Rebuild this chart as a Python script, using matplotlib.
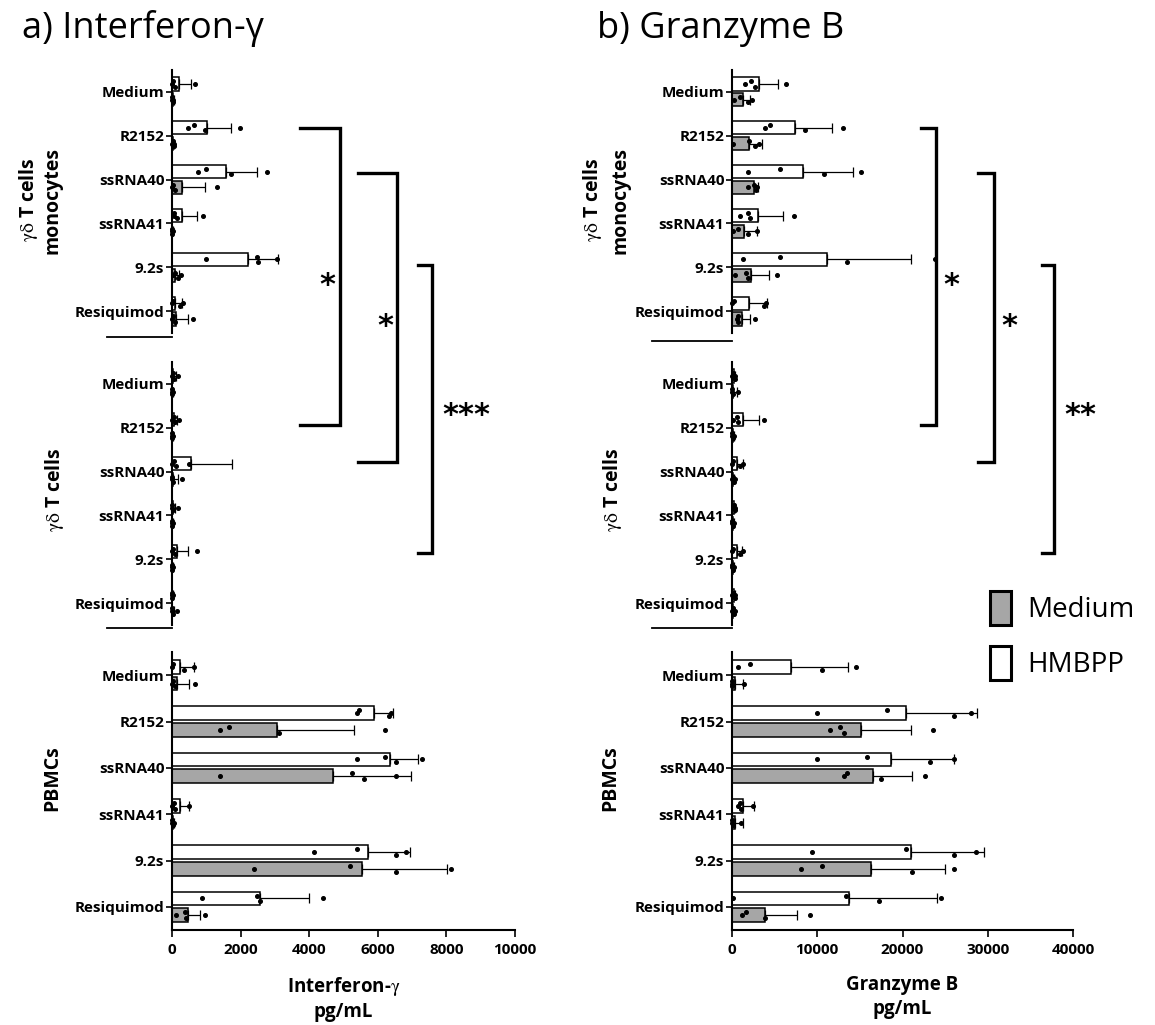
import numpy as np
import matplotlib.pyplot as plt
from matplotlib.lines import Line2D
from matplotlib.patches import Patch

plt.rcParams['font.family'] = ['Open Sans', 'DejaVu Sans']
plt.rcParams['mathtext.fontset'] = 'stix'

categories = ['Medium', 'R2152', 'ssRNA40', 'ssRNA41', '9.2s', 'Resiquimod']

# ---- Interferon-gamma (pg/mL) ----
# gd T cells + monocytes
ifn_mono_hmbpp = [200, 1020, 1570, 290, 2220, 100]
ifn_mono_hmbpp_sd = [350, 700, 910, 440, 870, 190]
ifn_mono_hmbpp_pts = [[0, 30, 100, 670], [470, 640, 960, 1980], [760, 990, 1720, 2770],
                      [50, 60, 150, 900], [990, 2480, 2500, 3060], [0, 20, 230, 320]]
ifn_mono_med = [20, 30, 290, 10, 90, 120]
ifn_mono_med_sd = [30, 40, 670, 20, 110, 350]
ifn_mono_med_pts = [[0, 10, 30, 40], [0, 20, 50, 60], [0, 20, 100, 1310],
                    [0, 0, 10, 20], [30, 80, 180, 250], [0, 20, 100, 610]]
# gd T cells only
ifn_gd_hmbpp = [30, 70, 540, 20, 150, 5]
ifn_gd_hmbpp_sd = [80, 80, 1210, 60, 320, 10]
ifn_gd_hmbpp_pts = [[0, 20, 60, 180], [0, 60, 100, 200], [0, 50, 120, 500],
                    [0, 10, 30, 180], [0, 40, 100, 730], [0, 0, 10, 20]]
ifn_gd_med = [5, 5, 20, 5, 5, 10]
ifn_gd_med_sd = [10, 10, 160, 10, 10, 40]
ifn_gd_med_pts = [[0, 0, 10, 20], [0, 0, 10, 20], [0, 10, 30, 280],
                  [0, 0, 10, 20], [0, 0, 10, 20], [0, 10, 30, 150]]
# PBMCs
ifn_pbmc_hmbpp = [230, 5880, 6370, 220, 5700, 2570]
ifn_pbmc_hmbpp_sd = [410, 560, 810, 280, 1230, 1430]
ifn_pbmc_hmbpp_pts = [[0, 40, 350, 640], [5380, 5450, 6320, 6380], [5400, 6220, 6520, 7300],
                      [0, 60, 100, 500], [4150, 5400, 6520, 6810], [880, 2470, 2560, 4410]]
ifn_pbmc_med = [150, 3070, 4680, 20, 5550, 460]
ifn_pbmc_med_sd = [350, 2250, 2280, 30, 2460, 350]
ifn_pbmc_med_pts = [[0, 20, 100, 670], [1400, 1660, 3130, 6200], [1400, 5260, 5610, 6520],
                    [0, 10, 20, 50], [2400, 5180, 6520, 8130], [130, 380, 400, 960]]

# ---- Granzyme B (pg/mL) ----
gzb_mono_hmbpp = [3160, 7370, 8300, 3040, 11110, 1990]
gzb_mono_hmbpp_sd = [2220, 4330, 5850, 2920, 9940, 2100]
gzb_mono_hmbpp_pts = [[1520, 2220, 2690, 6320], [3860, 4440, 8540, 12980], [1870, 5610, 10760, 15090],
                      [940, 1870, 2100, 7250], [1290, 5610, 13450, 23800], [0, 200, 3760, 4000]]
gzb_mono_med = [1290, 1990, 2570, 1400, 2220, 1170]
gzb_mono_med_sd = [800, 1500, 470, 1520, 2110, 930]
gzb_mono_med_pts = [[200, 940, 1870, 2340], [100, 1970, 2690, 3200], [1900, 2600, 2800, 2980],
                    [100, 700, 1870, 2920], [350, 1640, 1870, 5260], [580, 700, 710, 2690]]
gzb_gd_hmbpp = [200, 1290, 580, 250, 580, 200]
gzb_gd_hmbpp_sd = [200, 1870, 710, 150, 590, 150]
gzb_gd_hmbpp_pts = [[0, 100, 300, 400], [100, 580, 740, 3740], [0, 100, 940, 1280],
                    [100, 200, 300, 400], [0, 100, 940, 1280], [0, 100, 300, 400]]
gzb_gd_med = [150, 100, 150, 100, 100, 150]
gzb_gd_med_sd = [450, 100, 100, 100, 100, 100]
gzb_gd_med_pts = [[0, 0, 100, 700], [0, 50, 100, 250], [0, 100, 200, 300],
                  [0, 50, 100, 250], [0, 50, 100, 250], [0, 100, 200, 300]]
gzb_pbmc_hmbpp = [6920, 20400, 18640, 1290, 20980, 13720]
gzb_pbmc_hmbpp_sd = [6680, 8320, 7390, 1290, 8560, 10310]
gzb_pbmc_hmbpp_pts = [[700, 2100, 10550, 14540], [9960, 18170, 26030, 28060], [9960, 15830, 23210, 26030],
                      [700, 940, 1060, 2460], [9380, 20400, 26030, 28600], [100, 13360, 17230, 24500]]
gzb_pbmc_med = [350, 15120, 16530, 300, 16300, 3870]
gzb_pbmc_med_sd = [940, 5860, 4570, 990, 8670, 3750]
gzb_pbmc_med_pts = [[0, 0, 0, 1400], [11490, 12660, 13130, 23560], [13130, 13480, 17470, 22630],
                    [0, 0, 100, 1100], [8090, 10550, 21100, 26030], [1170, 1640, 3870, 9140]]

ifn_ticks = [0, 2000, 4000, 6000, 8000, 10000]
gzb_ticks = [0, 10000, 20000, 30000, 40000]

W, H = 1155, 1025
GREY = '#a6a6a6'
JITTER = np.array([0.0, -0.06, 0.06, 0.0])
GD = '$\\mathrm{\\gamma\\delta}$'


def fx(x):
    return x / W


def fy(y):
    return 1 - y / H


def draw_block(ax, hm, hm_sd, hm_pts, md, md_sd, md_pts, xmax, xticks, show_x):
    ypos = np.arange(len(categories))
    n = len(categories)
    for off, mean, sd, pts, col in [(-0.18, hm, hm_sd, hm_pts, 'white'),
                                    (0.18, md, md_sd, md_pts, GREY)]:
        y = ypos + off
        ax.barh(y, mean, height=0.3, color=col, edgecolor='black', linewidth=1.1, zorder=2)
        ax.errorbar(mean, y, xerr=[np.zeros(n), sd], fmt='none', ecolor='black',
                    elinewidth=0.9, capsize=3.5, capthick=0.9, zorder=3)
        for yi, p in zip(y, pts):
            ax.plot(p, yi + JITTER[:len(p)], 'o', color='black', ms=2.6, zorder=4, clip_on=False)
    ax.set_ylim(5.5, -0.5)
    ax.set_xlim(0, xmax)
    ax.set_yticks(ypos)
    ax.set_yticklabels(categories, fontsize=11, fontweight='bold')
    ax.tick_params(axis='y', length=4, width=1.2, pad=1.5)
    for s in ['top', 'right']:
        ax.spines[s].set_visible(False)
    ax.spines['left'].set_linewidth(1.5)
    if show_x:
        ax.set_xticks(xticks)
        ax.set_xticklabels([str(t) for t in xticks], fontsize=11, fontweight='bold')
        ax.tick_params(axis='x', length=5, width=1.2, pad=4)
        ax.spines['bottom'].set_linewidth(1.5)
    else:
        ax.spines['bottom'].set_visible(False)
        ax.set_xticks([])


fig = plt.figure(figsize=(W / 100, H / 100), dpi=100)

rows = [(70, 333), (362, 625), (652, 930)]
panels = [
    (172, 515, 10000, ifn_ticks,
     [(ifn_mono_hmbpp, ifn_mono_hmbpp_sd, ifn_mono_hmbpp_pts, ifn_mono_med, ifn_mono_med_sd, ifn_mono_med_pts),
      (ifn_gd_hmbpp, ifn_gd_hmbpp_sd, ifn_gd_hmbpp_pts, ifn_gd_med, ifn_gd_med_sd, ifn_gd_med_pts),
      (ifn_pbmc_hmbpp, ifn_pbmc_hmbpp_sd, ifn_pbmc_hmbpp_pts, ifn_pbmc_med, ifn_pbmc_med_sd, ifn_pbmc_med_pts)],
     'Interferon-$\\mathrm{\\gamma}$\npg/mL'),
    (732, 1073, 40000, gzb_ticks,
     [(gzb_mono_hmbpp, gzb_mono_hmbpp_sd, gzb_mono_hmbpp_pts, gzb_mono_med, gzb_mono_med_sd, gzb_mono_med_pts),
      (gzb_gd_hmbpp, gzb_gd_hmbpp_sd, gzb_gd_hmbpp_pts, gzb_gd_med, gzb_gd_med_sd, gzb_gd_med_pts),
      (gzb_pbmc_hmbpp, gzb_pbmc_hmbpp_sd, gzb_pbmc_hmbpp_pts, gzb_pbmc_med, gzb_pbmc_med_sd, gzb_pbmc_med_pts)],
     'Granzyme B\npg/mL'),
]

for x0, x1, xmax, ticks, blocks, xlabel in panels:
    for i, ((y0, y1), blk) in enumerate(zip(rows, blocks)):
        ax = fig.add_axes([fx(x0), fy(y1), (x1 - x0) / W, (y1 - y0) / H])
        draw_block(ax, *blk, xmax=xmax, xticks=ticks, show_x=(i == 2))
        if i == 2:
            ax.set_xlabel(xlabel, fontsize=13.5, fontweight='bold', labelpad=13, linespacing=1.3)

# short horizontal rules under the upper two blocks
for xa, xb, ys in [(107, 172, (337, 628)), (652, 732, (341, 628))]:
    for yy in ys:
        fig.add_artist(Line2D([fx(xa), fx(xb)], [fy(yy), fy(yy)], color='black', lw=1.3))

# panel titles
fig.text(fx(22), fy(38), 'a) Interferon-γ', fontsize=26, va='baseline')
fig.text(fx(597), fy(38), 'b) Granzyme B', fontsize=26, va='baseline')

# row labels
for xg, xm, xc, xp in [(28, 52, 55, 52), (593, 620, 612, 610)]:
    fig.text(fx(xg), fy(200), GD + ' T cells', rotation=90, fontsize=14,
             fontweight='bold', ha='center', va='center')
    fig.text(fx(xm), fy(200), 'monocytes', rotation=90, fontsize=14,
             fontweight='bold', ha='center', va='center')
    fig.text(fx(xc), fy(490), GD + ' T cells', rotation=90, fontsize=14,
             fontweight='bold', ha='center', va='center')
    fig.text(fx(xp), fy(778), 'PBMCs', rotation=90, fontsize=14,
             fontweight='bold', ha='center', va='center')

# significance brackets: (arm start x, vertical x, top y, bottom y, label, label x, label y)
brackets = [
    (300, 340, 128, 425, '*', 327, 286),
    (358, 397, 173, 462, '*', 385, 326),
    (418, 432, 265, 553, '***', 466, 416),
    (921, 936, 128, 425, '*', 951, 286),
    (978, 994, 173, 462, '*', 1009, 326),
    (1042, 1054, 265, 553, '**', 1080, 416),
]
for xa, xv, yt, yb, lab, lx, ly in brackets:
    fig.add_artist(Line2D([fx(xa), fx(xv), fx(xv), fx(xa)], [fy(yt), fy(yt), fy(yb), fy(yb)],
                          color='black', lw=2.4, solid_joinstyle='miter'))
    fig.text(fx(lx), fy(ly), lab, fontsize=22, fontweight='bold', ha='center', va='center',
             family='DejaVu Sans')

# legend
handles = [Patch(facecolor=GREY, edgecolor='black', linewidth=2.2, label='Medium'),
           Patch(facecolor='white', edgecolor='black', linewidth=2.2, label='HMBPP')]
fig.legend(handles=handles, loc='upper left', bbox_to_anchor=(fx(990), fy(591)), frameon=False,
           fontsize=20, handlelength=0.75, handleheight=1.5, handletextpad=0.6,
           labelspacing=0.75, borderpad=0, borderaxespad=0)

fig.savefig('out.png', dpi=100)
